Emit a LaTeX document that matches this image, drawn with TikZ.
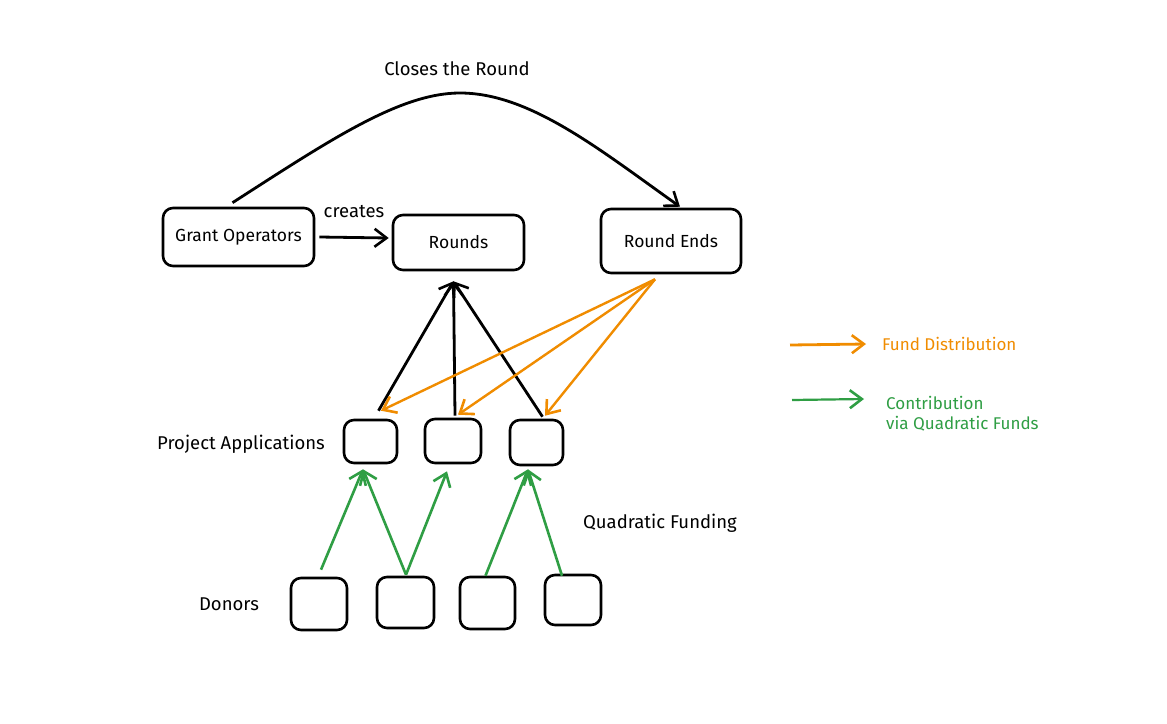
\documentclass[tikz,border=0pt]{standalone}
\usepackage{fontspec}
\setmainfont{Fira Sans}
\usetikzlibrary{arrows.meta,calc}
\definecolor{exorange}{HTML}{F08C00}
\definecolor{exgreen}{HTML}{2F9E44}
\tikzset{
  box/.style={draw=black, line width=2.6pt, rounded corners=10pt, fill=white, inner sep=0pt, font=\fontsize{17.5}{21}\selectfont},
  lbl/.style={font=\fontsize{18.5}{22}\selectfont, inner sep=0pt},
  legtext/.style={font=\fontsize{17}{20}\selectfont, inner sep=0pt, align=left},
  arr/.style={line width=2.8pt, -{Straight Barb[length=12pt,width=18pt,line width=2.6pt]}},
  oarr/.style={arr, draw=exorange, line width=2.4pt},
  garr/.style={arr, draw=exgreen, line width=2.6pt},
}
\begin{document}
\begin{tikzpicture}[x=1pt,y=-1pt]
\useasboundingbox[fill=white] (0,0) rectangle (1167,723);
% main boxes
\node[box, minimum width=151pt, minimum height=58pt] (go) at (238.5,237) {Grant Operators};
\node[box, minimum width=131pt, minimum height=55pt] (rounds) at (458.5,242.5) {Rounds};
\node[box, minimum width=140pt, minimum height=64pt] (re) at (671,241) {Round Ends};
% project boxes
\node[box, minimum width=53pt, minimum height=43pt] (p1) at (370.5,441.5) {};
\node[box, minimum width=56pt, minimum height=44pt] (p2) at (453,441) {};
\node[box, minimum width=53pt, minimum height=45pt] (p3) at (536.5,442.5) {};
% donor boxes
\node[box, minimum width=56pt, minimum height=52pt] (d1) at (319,604) {};
\node[box, minimum width=57pt, minimum height=51pt] (d2) at (405.5,602.5) {};
\node[box, minimum width=55pt, minimum height=52pt] (d3) at (487.5,603) {};
\node[box, minimum width=56pt, minimum height=50pt] (d4) at (573,600) {};
% labels
\node[lbl] (creates) at (354,212) {creates};
\node[lbl] (closes) at (457,69) {Closes the Round};
\node[lbl] (projapp) at (241,444) {Project Applications};
\node[lbl] (donors) at (229,604) {Donors};
\node[lbl] (qf) at (660,523) {Quadratic Funding};
% connectors
\draw[arr] ($(go.east)+(4,0)$) -- ($(rounds.west)+(-3,-4.5)$);
\coordinate (peak) at (460,93);
\draw[arr] ($(go.north)+(-6,-4)$) .. controls (330,140) and (400,93) .. (peak)
  .. controls (530,93) and (600,150) .. ($(re.north)+(9,-1)$);
\coordinate (rb) at ($(rounds.south)+(-5,10)$);
\draw[arr] ($(p1.north)+(8,-8)$) -- (rb);
\draw[arr] ($(p2.north)+(2,-2)$) -- (rb);
\draw[arr] ($(p3.north)+(6,-2)$) -- (rb);
\coordinate (rs) at ($(re.south)+(-16,5)$);
\draw[oarr] (rs) -- ($(p1.north)+(10.5,-8)$);
\draw[oarr] (rs) -- ($(p2.north)+(5,-3)$);
\draw[oarr] (rs) -- ($(p3.north)+(8.5,-3)$);
\draw[garr] ($(d1.north)+(2,-7)$) -- ($(p1.south)+(-7.5,5)$);
\draw[garr] ($(d2.north)+(0.5,-1)$) -- ($(p1.south)+(-7.5,5)$);
\draw[garr] ($(d2.north)+(0.5,-1)$) -- ($(p2.south)+(-6,7)$);
\draw[garr] ($(d3.north)+(-2,0)$) -- ($(p3.south)+(-8.5,3)$);
\draw[garr] ($(d4.north)+(-11,2)$) -- ($(p3.south)+(-8.5,3)$);
% legend
\coordinate (l1a) at (790,345);
\coordinate (l1b) at (866,344);
\draw[oarr, line width=2.8pt] (l1a) -- (l1b);
\node[legtext, text=exorange, anchor=west] (leg1) at (882,344) {Fund Distribution};
\coordinate (l2a) at (792,400);
\coordinate (l2b) at (864,399);
\draw[garr, line width=2.2pt] (l2a) -- (l2b);
\node[legtext, text=exgreen, anchor=north west] (leg2) at (886,396) {Contribution\\via Quadratic Funds};
\end{tikzpicture}
\end{document}
